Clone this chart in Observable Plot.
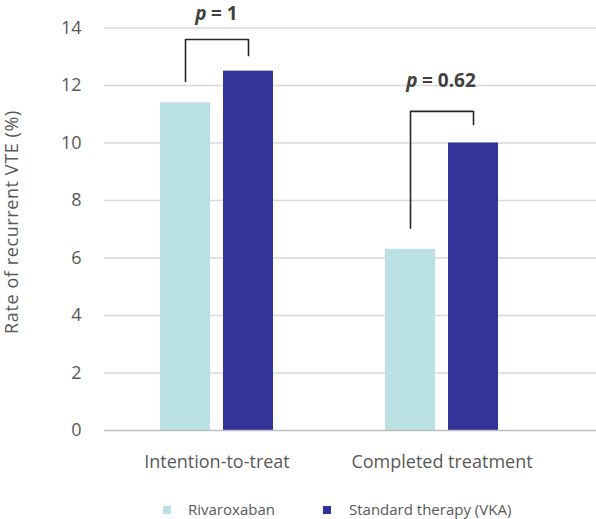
<!DOCTYPE html>
<html>
<head>
<meta charset="utf-8">
<script src="https://cdn.jsdelivr.net/npm/d3@7"></script>
<script src="https://cdn.jsdelivr.net/npm/@observablehq/plot@0.6"></script>
<style>
  html, body { margin: 0; padding: 0; background: #fff; }
  #wrap { position: relative; width: 596px; height: 519px; font-family: "Open Sans", sans-serif; color: #595959; }
  #ytitle { position: absolute; left: 11px; top: 222px; transform: translate(-50%, -50%) rotate(-90deg); white-space: nowrap; font-size: 18px; line-height: 20px; letter-spacing: 0.6px; }
  .sw { position: absolute; top: 506px; width: 8px; height: 8px; }
  .lt { position: absolute; top: 499px; font-size: 15px; line-height: 20px; white-space: nowrap; }
</style>
</head>
<body>
<div id="wrap">
  <div id="chart"></div>
  <div id="ytitle">Rate of recurrent VTE (%)</div>
  <div id="legend"></div>
</div>
<script>
const categories = ["Intention-to-treat", "Completed treatment"];
const series = ["Rivaroxaban", "Standard therapy (VKA)"];
const rivaroxaban = [11.4, 6.3];
const vka = [12.5, 10.0];
const yTicks = [0, 2, 4, 6, 8, 10, 12, 14];
const pValues = ["1", "0.62"];
const bracketLeftBottom = [12.1, 7.0];
const bracketTop = [13.6, 11.1];
const bracketRightBottom = [13.0, 10.6];
const pLabelLevel = [14.5, 12.15];
const colors = ["#b9e0e3", "#333399"];

const rivData = categories.map((c, i) => ({category: c, value: rivaroxaban[i]}));
const vkaData = categories.map((c, i) => ({category: c, value: vka[i]}));
const brackets = categories.map((c, i) => ({
  category: c, lb: bracketLeftBottom[i], top: bracketTop[i], rb: bracketRightBottom[i],
  p: pValues[i], py: pLabelLevel[i]
}));
const pOffsets = [[-10.5, -6], [-24.5, -20]];

const textColor = "#595959";
const plot = Plot.plot({
  width: 596,
  height: 482,
  marginTop: 27.5,
  marginBottom: 52,
  marginLeft: 104,
  marginRight: 0,
  style: {fontFamily: "Open Sans, sans-serif", color: textColor, background: "#fff", overflow: "visible"},
  x: {type: "band", domain: categories, range: [104, 554], padding: 0},
  y: {domain: [0, 14]},
  marks: [
    Plot.ruleY(yTicks.filter(d => d > 0), {stroke: "#d9d9d9", strokeWidth: 1.5}),
    Plot.barY(rivData, {x: "category", y: "value", fill: colors[0], insetLeft: 56, insetRight: 119}),
    Plot.barY(vkaData, {x: "category", y: "value", fill: colors[1], insetLeft: 119, insetRight: 56}),
    Plot.ruleY([0], {stroke: "#bfbfbf", strokeWidth: 1.5}),
    Plot.axisY({ticks: yTicks, tickSize: 0, tickPadding: 23, fontSize: 18, label: null, color: textColor}),
    Plot.axisX({tickSize: 0, tickPadding: 25, fontSize: 18, label: null, color: textColor}),
    Plot.ruleX(brackets, {x: "category", y1: "lb", y2: "top", dx: -31.5, stroke: "#262626", strokeWidth: 1.6}),
    Plot.ruleX(brackets, {x: "category", y1: "rb", y2: "top", dx: 31.5, stroke: "#262626", strokeWidth: 1.6}),
    Plot.tickY(brackets, {x: "category", y: "top", insetLeft: 81, insetRight: 81, stroke: "#262626", strokeWidth: 1.6}),
    ...brackets.map((b, i) => Plot.text([b], {x: "category", y: "py", text: () => "p", dx: pOffsets[i][0], textAnchor: "end", fontSize: 19, fontWeight: "bold", fontStyle: "italic", fill: "#404040"})),
    ...brackets.map((b, i) => Plot.text([b], {x: "category", y: "py", text: d => "= " + d.p, dx: pOffsets[i][1], textAnchor: "start", fontSize: 19, fontWeight: "bold", fill: "#404040"}))
  ]
});
document.getElementById("chart").appendChild(plot);

const legend = document.getElementById("legend");
const swatchLeft = [163, 323];
const textLeft = [188, 349];
series.forEach((s, i) => {
  const sw = document.createElement("div");
  sw.className = "sw";
  sw.style.left = swatchLeft[i] + "px";
  sw.style.background = colors[i];
  legend.appendChild(sw);
  const t = document.createElement("div");
  t.className = "lt";
  t.style.left = textLeft[i] + "px";
  t.textContent = s;
  legend.appendChild(t);
});
</script>
</body>
</html>
